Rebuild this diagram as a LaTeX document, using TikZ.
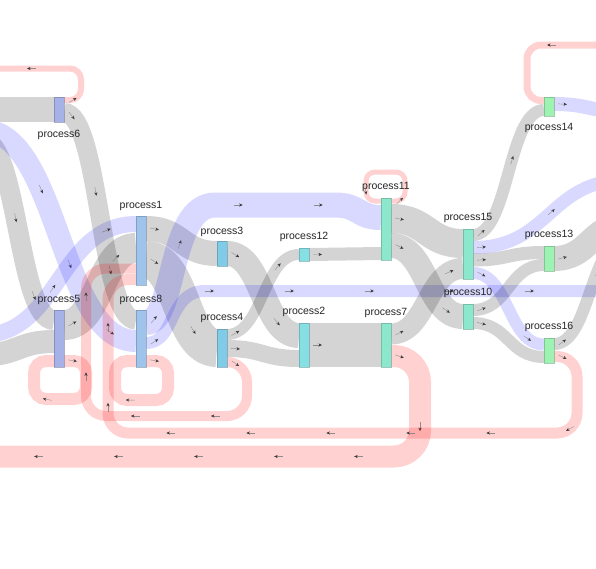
\documentclass[tikz,border=0pt]{standalone}
\usepackage{fontspec}
\setmainfont{Liberation Sans}
\usetikzlibrary{arrows.meta,decorations.markings}
\definecolor{cA}{HTML}{A6B1E8}
\definecolor{cB}{HTML}{9EC4EC}
\definecolor{cC}{HTML}{80CBE6}
\definecolor{cD}{HTML}{86DFE2}
\definecolor{cE}{HTML}{8CE8CC}
\definecolor{cF}{HTML}{9EF2B2}
\newcommand\port[4]{\coordinate (#1) at ([yshift=-#4pt]#2.north #3);}
\pgfdeclarelayer{bg}
\pgfsetlayers{bg,main}
\begin{document}
\begin{tikzpicture}[x=1pt,y=-1pt,
  arr/.style={draw=black!50, line width=0.4pt, opacity=0.85, -{Stealth[length=3.6pt,width=3.2pt,color=black!80]}},
  band/.style={postaction={decorate,decoration={markings,mark=between positions 12pt and -3pt step 80pt with {\draw[arr] (-8pt,0pt) -- (1pt,0pt);}}}},
  gL/.style={band, draw=black, draw opacity=0.17, line width=#1},
  bL/.style={band, draw=blue, draw opacity=0.15, line width=#1},
  pL/.style={band, draw=red, draw opacity=0.18, line width=#1},
  nd/.style={rectangle, anchor=north west, inner sep=0pt, outer sep=0pt, minimum width=10pt, fill=#1, draw=#1!70!black, draw opacity=0.6, line width=0.4pt},
  lbl/.style={font=\fontsize{10.5}{12}\selectfont, text=black!85, inner sep=0pt}
]
\useasboundingbox (0,0) rectangle (596,568);
% nodes
\node[nd=cA, minimum height=25pt] (p6) at (54,97) {};
\node[nd=cA, minimum height=57pt] (p5) at (54,310) {};
\node[nd=cB, minimum height=69pt] (p1) at (136,216) {};
\node[nd=cB, minimum height=57pt] (p8) at (136,310) {};
\node[nd=cC, minimum height=25pt] (p3) at (217,241) {};
\node[nd=cC, minimum height=38pt] (p4) at (217,329) {};
\node[nd=cD, minimum height=13pt] (p12) at (299,248) {};
\node[nd=cD, minimum height=44pt] (p2) at (299,323) {};
\node[nd=cE, minimum height=62pt] (p11) at (381,198) {};
\node[nd=cE, minimum height=44pt] (p7) at (381,323) {};
\node[nd=cE, minimum height=50pt] (p15) at (463,229) {};
\node[nd=cE, minimum height=25pt] (p10) at (463,304) {};
\node[nd=cF, minimum height=19pt] (p14) at (544,97) {};
\node[nd=cF, minimum height=25pt] (p13) at (544,246) {};
\node[nd=cF, minimum height=25pt] (p16) at (544,338) {};
% labels
\node[lbl] (t6) at (59,135) {process6};
\node[lbl] (t1) at (141,206) {process1};
\node[lbl] (t5) at (59,300) {process5};
\node[lbl] (t8) at (141,300) {process8};
\node[lbl] (t3) at (222,232) {process3};
\node[lbl] (t4) at (222,318) {process4};
\node[lbl] (t12) at (304,237) {process12};
\node[lbl] (t2) at (304,312) {process2};
\node[lbl] (t11) at (386,187) {process11};
\node[lbl] (t7) at (386,313) {process7};
\node[lbl] (t15) at (468,218) {process15};
\node[lbl] (t10) at (468,293) {process10};
\node[lbl] (t14) at (549,128) {process14};
\node[lbl] (t13) at (549,235) {process13};
\node[lbl] (t16) at (549,327) {process16};
% ports
\port{p6i}{p6}{west}{12.5}
\port{p6oP}{p6}{east}{3}
\port{p6o}{p6}{east}{15.5}
\port{p5ia}{p5}{west}{10}
\port{p5ib}{p5}{west}{31.5}
\port{p5iP}{p5}{west}{51}
\port{p5o}{p5}{east}{15}
\port{p5oP}{p5}{east}{51}
\port{p1iB}{p1}{west}{8}
\port{p1iG}{p1}{west}{32}
\port{p1iPa}{p1}{west}{52.5}
\port{p1iPb}{p1}{west}{63.5}
\port{p1oa}{p1}{east}{12.5}
\port{p1ob}{p1}{east}{44}
\port{p8iG}{p8}{west}{10}
\port{p8iB}{p8}{west}{31}
\port{p8iP}{p8}{west}{51}
\port{p8oa}{p8}{east}{12.5}
\port{p8ob}{p8}{east}{33}
\port{p8oP}{p8}{east}{51}
\port{p3i}{p3}{west}{12.5}
\port{p3o}{p3}{east}{12.5}
\port{p4i}{p4}{west}{19}
\port{p4oa}{p4}{east}{5.5}
\port{p4ob}{p4}{east}{19.5}
\port{p4oP}{p4}{east}{33}
\port{p12i}{p12}{west}{6.5}
\port{p12o}{p12}{east}{6.5}
\port{p2ia}{p2}{west}{12.5}
\port{p2ib}{p2}{west}{35.5}
\port{p2o}{p2}{east}{22}
\port{p11iP}{p11}{west}{3}
\port{p11iB}{p11}{west}{19.5}
\port{p11iG}{p11}{west}{55.5}
\port{p11oP}{p11}{east}{3}
\port{p11oa}{p11}{east}{20.5}
\port{p11ob}{p11}{east}{47.5}
\port{p7i}{p7}{west}{22}
\port{p7o}{p7}{east}{11}
\port{p7oP}{p7}{east}{33}
\port{p15ia}{p15}{west}{14.5}
\port{p15ib}{p15}{west}{39.5}
\port{p15oa}{p15}{east}{6}
\port{p15ob}{p15}{east}{18.5}
\port{p15oc}{p15}{east}{31}
\port{p15od}{p15}{east}{44}
\port{p10i}{p10}{west}{12.5}
\port{p10oa}{p10}{east}{6}
\port{p10ob}{p10}{east}{19}
\port{p14iP}{p14}{west}{3.5}
\port{p14i}{p14}{west}{13}
\port{p14o}{p14}{east}{7}
\port{p13ia}{p13}{west}{6.5}
\port{p13ib}{p13}{west}{19}
\port{p13o}{p13}{east}{12.5}
\port{p16ia}{p16}{west}{6.5}
\port{p16ib}{p16}{west}{19}
\port{p16o}{p16}{east}{6}
\port{p16oP}{p16}{east}{18.5}
% off-picture ends
\coordinate (L1) at (-18,109.5);
\coordinate (L2) at (-18,140);
\coordinate (L3) at (-18,355);
\coordinate (L4) at (-18,130);
\coordinate (L5) at (-18,335);
\coordinate (L6) at (-40,456.5);
\coordinate (L7) at (-40,68.5);
\coordinate (R1) at (626,291);
\coordinate (R2) at (626,180);
\coordinate (R3) at (626,112);
\coordinate (R4) at (626,225);
\coordinate (R5) at (626,240);
\coordinate (R6) at (640,45);
\begin{pgfonlayer}{bg}
\fill[white] (0,0) rectangle (596,568);
\clip (0,0) rectangle (596,568);
\draw[gL=25pt] (L1) -- (p6i);
\draw[gL=20pt] (L2) .. controls +(36,0) and +(-36,0) .. (p5ia);
\draw[gL=23pt] (L3) .. controls +(36,0) and +(-36,0) .. (p5ib);
\draw[bL=22pt] (L4) .. controls +(77,0) and +(-77,0) .. (p8iB);
\draw[bL=16pt] (L5) .. controls +(77,0) and +(-77,0) .. (p1iB);
\draw[gL=19pt] (p6o) .. controls +(36,0) and +(-36,0) .. (p8iG);
\draw[pL=6pt, rounded corners=11pt] (p6oP) -| (81,68.5) -- (L7);
\draw[gL=30pt] (p5o) .. controls +(36,0) and +(-36,0) .. (p1iG);
\draw[pL=12pt, rounded corners=12pt] (p5oP) -| (86,399) -| (34,361) -- (p5iP);
\draw[gL=25pt] (p1oa) .. controls +(36,0) and +(-36,0) .. (p3i);
\draw[gL=38pt] (p1ob) .. controls +(36,0) and +(-36,0) .. (p4i);
\draw[gL=11pt] (p4oa) .. controls +(36,0) and +(-36,0) .. (p12i);
\draw[gL=17pt] (p4ob) .. controls +(36,0) and +(-36,0) .. (p2ib);
\draw[gL=25pt] (p3o) .. controls +(36,0) and +(-36,0) .. (p2ia);
\draw[pL=10pt, rounded corners=20pt] (p4oP) -| (247,416) -- (86,416) |- (p1iPa);
\draw[gL=13pt] (p12o) .. controls +(36,0) and +(-36,0) .. (p11iG);
\draw[bL=25pt] (p8oa) .. controls +(30,0) and (168,205) .. (215,205) -- (335,205) .. controls (360,205) and +(-24,0) .. (p11iB);
\draw[bL=12pt] (p8ob) .. controls +(30,0) and (168,291) .. (205,291) -- (R1);
\draw[pL=12pt, rounded corners=12pt] (p8oP) -| (168,400) -| (115,361) -- (p8iP);
\draw[gL=44pt] (p2o) -- (p7i);
\draw[gL=29pt] (p11oa) .. controls +(36,0) and +(-36,0) .. (p15ia);
\draw[gL=25pt] (p11ob) .. controls +(36,0) and +(-36,0) .. (p10i);
\draw[pL=5pt, rounded corners=9pt] (p11oP) -| (405,172) -| (366,201) -- (p11iP);
\draw[gL=21pt] (p7o) .. controls +(36,0) and +(-36,0) .. (p15ib);
\draw[pL=22pt, rounded corners=26pt] (p7oP) -| (420,456.5) -- (L6);
\draw[gL=12pt] (p15oa) .. controls +(36,0) and +(-36,0) .. (p14i);
\draw[bL=13pt] (p15ob) .. controls +(77,0) and +(-77,0) .. (R2);
\draw[gL=13pt] (p15oc) .. controls +(36,0) and +(-36,0) .. (p13ia);
\draw[bL=12pt] (p15od) .. controls +(36,0) and +(-36,0) .. (p16ia);
\draw[gL=12pt] (p10oa) .. controls +(36,0) and +(-36,0) .. (p13ib);
\draw[gL=12pt] (p10ob) .. controls +(36,0) and +(-36,0) .. (p16ib);
\draw[pL=7pt, rounded corners=14pt] (R6) -| (527,100.5) -- (p14iP);
\draw[bL=14pt] (p14o) .. controls +(36,0) and +(-36,0) .. (R3);
\draw[gL=25pt] (p13o) .. controls +(36,0) and +(-36,0) .. (R4);
\draw[gL=12pt] (p16o) .. controls +(36,0) and +(-36,0) .. (R5);
\draw[pL=11pt, rounded corners=20pt] (p16oP) -| (577,433) -- (108,433) |- (p1iPb);
\end{pgfonlayer}
\end{tikzpicture}
\end{document}
